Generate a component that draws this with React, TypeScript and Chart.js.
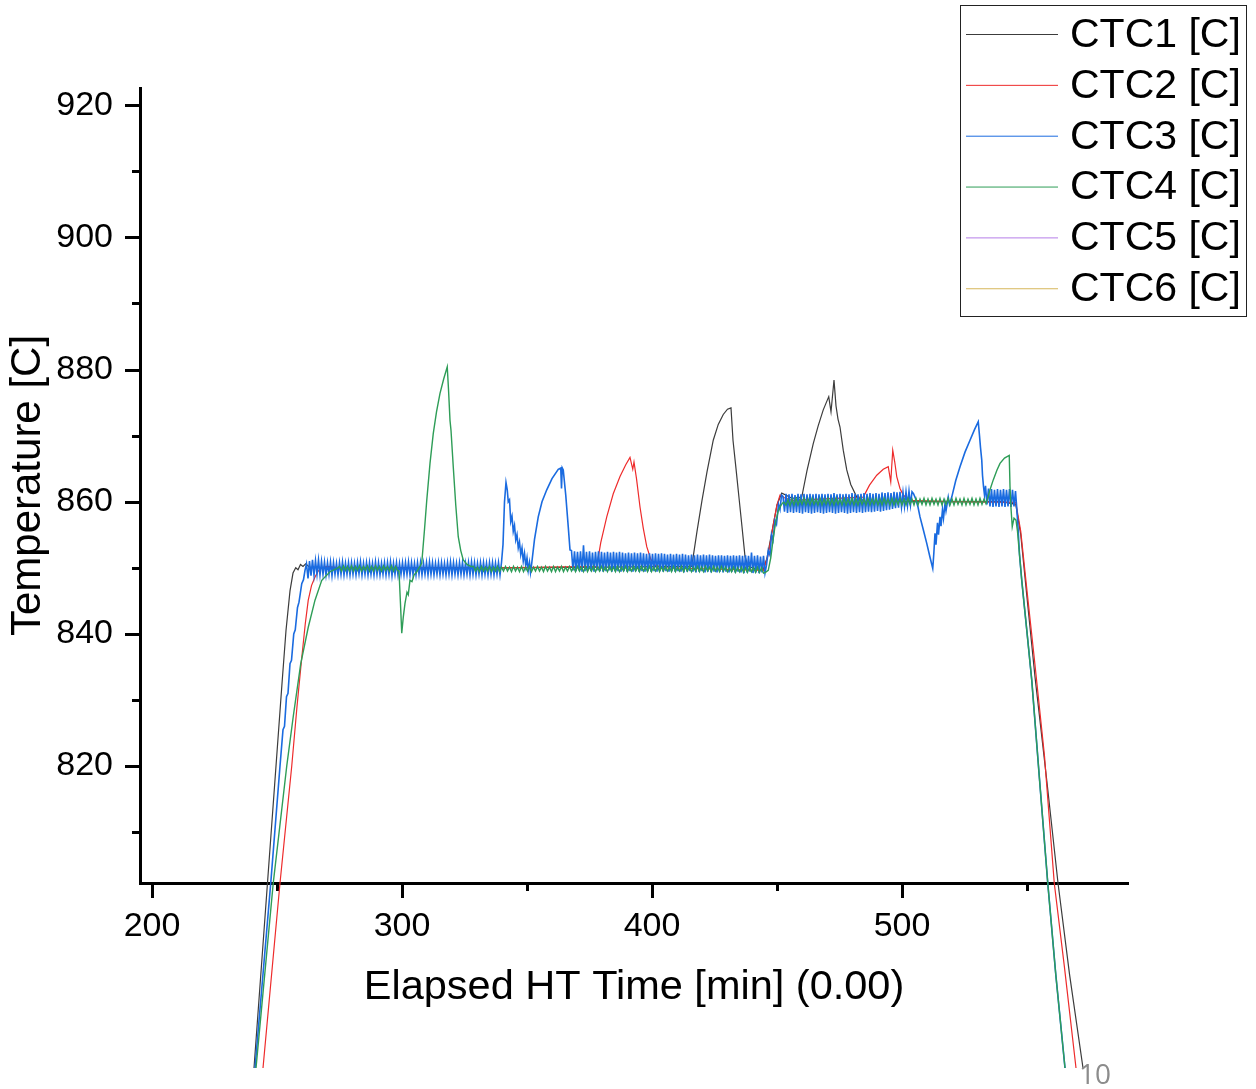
import React, { useEffect, useRef } from "react";
import { Chart, registerables } from "chart.js";

Chart.register(...registerables);

// ---------------- data ----------------
const seriesNames = ["CTC1 [C]", "CTC2 [C]", "CTC3 [C]", "CTC4 [C]", "CTC5 [C]", "CTC6 [C]"];
const seriesColors = ["#3c3c3c", "#ee2b2b", "#1a6be0", "#2e9d57", "#b57ee8", "#d6b65a"];
const seriesWidths = [1.2, 1.2, 1.6, 1.4, 1.2, 1.2];

const xMajorTicks = [200, 300, 400, 500];
const xMinorTicks = [250, 350, 450, 550];
const yMajorTicks = [820, 840, 860, 880, 900, 920];
const yMinorTicks = [810, 830, 850, 870, 890, 910];
const xRange = [195.2, 590.4];
const yRange = [802.3, 922.6];

const xTitle = "Elapsed HT Time [min] (0.00)";
const yTitle = "Temperature [C]";
const pageNumber = "10";

// logger sample interval during controller oscillation runs [min]
const ctc3SampleStep = 0.6;
const ctc4SampleStep = 0.8;

// CTC1 key points [time, temp]
const ctc1Points: [number, number][] = [
  [240.8, 774.3], [249.6, 820.0], [252.0, 832.5], [253.6, 840.5], [255.2, 846.5], [256.4, 849.2],
  [257.5, 850.0], [258.4, 849.7], [259.4, 850.5], [260.4, 850.2], [261.5, 850.6], [263.0, 850.1],
  [270.0, 850.0], [300.0, 850.0], [340.0, 850.0], [380.0, 850.1], [415.9, 850.2],
  [418.0, 855.5], [420.0, 860.2], [422.0, 864.5], [424.5, 869.3], [426.5, 871.7], [428.5, 873.2],
  [430.2, 874.0], [431.6, 874.2], [432.4, 869.3], [433.6, 865.0], [434.8, 860.6], [436.0, 856.2],
  [437.2, 851.7], [438.3, 850.3], [440.0, 850.0], [444.4, 849.6], [446.0, 851.5], [448.0, 855.5],
  [450.0, 859.5], [451.9, 861.3], [453.5, 861.0], [456.0, 860.5], [459.9, 860.7], [462.0, 864.7],
  [464.5, 868.8], [466.5, 871.5], [468.5, 873.9], [470.7, 875.9], [471.6, 873.6], [472.8, 878.4],
  [473.6, 874.5], [474.4, 872.5], [475.2, 871.3], [476.5, 867.8], [477.9, 864.8], [479.5, 862.6],
  [481.9, 860.7], [485.0, 860.1], [500.0, 860.0], [520.0, 860.0], [540.0, 860.0], [545.5, 859.6],
  [547.5, 855.0], [550.0, 845.5], [553.2, 833.5], [558.0, 817.5], [562.4, 802.3], [567.0, 788.5],
  [572.4, 774.3],
];

// CTC2 key points
const ctc2Points: [number, number][] = [
  [244.4, 774.3], [251.2, 802.3], [255.9, 820.0], [258.0, 829.0], [259.8, 836.0], [261.3, 841.5],
  [262.5, 845.1], [263.8, 847.3], [265.2, 848.6], [266.5, 849.5], [267.9, 850.0], [270.0, 850.2],
  [275.0, 850.0], [300.0, 850.0], [340.0, 850.0], [377.9, 850.2], [379.5, 853.8], [381.9, 857.7],
  [384.5, 861.2], [387.2, 863.8], [389.5, 865.6], [391.2, 866.7], [392.3, 864.9], [392.8, 866.0],
  [393.8, 863.5], [395.2, 859.2], [396.5, 856.0], [397.9, 853.2], [399.5, 851.3], [401.2, 850.4],
  [405.0, 850.0], [444.6, 849.6], [446.5, 852.0], [448.5, 856.5], [450.0, 859.5], [451.2, 861.0],
  [453.0, 860.6], [456.0, 860.2], [484.5, 860.7], [487.0, 862.5], [489.9, 864.0], [492.5, 864.9],
  [494.5, 865.3], [495.5, 863.0], [496.3, 867.8], [497.1, 866.0], [497.9, 863.8], [499.2, 862.0],
  [500.5, 861.0], [503.0, 860.2], [520.0, 860.0], [545.5, 859.9], [547.5, 855.5], [550.0, 846.5],
  [553.0, 836.0], [557.0, 821.5], [560.9, 802.3], [565.0, 789.5], [569.6, 774.3],
];

// CTC3 key points (spikes, steps, ramps)
const ctc3Points: [number, number][] = [
  [241.2, 774.3], [247.5, 802.3], [251.2, 820.0], [252.4, 825.5], [253.0, 826.0], [253.8, 830.5],
  [254.4, 831.0], [255.2, 835.5], [255.8, 836.0], [256.7, 840.0], [257.3, 840.6], [258.2, 844.0],
  [258.8, 844.8], [259.9, 847.6], [260.6, 848.2], [261.2, 849.6],
  [340.4, 853.5], [341.0, 860.0], [341.6, 862.9], [342.1, 861.8], [342.5, 860.0], [343.0, 860.3],
  [343.5, 857.0], [344.0, 857.8], [344.5, 855.5], [345.0, 856.4], [345.5, 854.2], [346.0, 855.0],
  [346.5, 853.0], [347.0, 853.9], [347.5, 852.0], [348.0, 853.0], [348.5, 851.0], [349.0, 852.2],
  [349.5, 850.3], [350.0, 851.5], [350.5, 849.6], [351.0, 850.8], [351.4, 849.3], [351.9, 850.7],
  [353.0, 854.3], [354.5, 857.7], [356.0, 860.0], [357.9, 861.8], [360.0, 863.5], [362.5, 864.9],
  [363.5, 865.1], [363.8, 862.0], [364.1, 865.1], [364.5, 864.8], [365.5, 861.0], [366.5, 856.2],
  [367.2, 852.7],
  [445.8, 850.4], [446.5, 852.6], [447.2, 851.9], [447.8, 855.0], [448.4, 854.2], [449.2, 857.2],
  [449.8, 856.6], [450.6, 859.6], [451.2, 858.8], [451.8, 861.0],
  [504.6, 861.2], [505.5, 860.4], [506.4, 859.2], [507.2, 857.7], [508.5, 855.8], [509.9, 853.7],
  [511.2, 851.6], [512.3, 849.9], [512.7, 852.0], [513.2, 855.2], [513.6, 853.5], [514.2, 856.8],
  [514.6, 855.0], [515.2, 857.7], [515.6, 856.3], [516.2, 858.8], [516.6, 857.5], [517.2, 859.7],
  [517.6, 858.6], [518.5, 860.7], [519.0, 859.6], [519.9, 860.7], [521.5, 863.2], [523.2, 865.3],
  [525.2, 867.5], [527.2, 869.3], [529.0, 870.9], [530.5, 872.1], [531.0, 870.0], [531.4, 868.2],
  [531.9, 866.3], [532.2, 864.0], [532.6, 862.3], [533.0, 861.0],
  [546.0, 858.5], [546.5, 855.5], [547.0, 852.0], [547.9, 848.1], [548.9, 844.3], [549.9, 840.6],
  [550.9, 836.8], [551.9, 833.0], [555.0, 818.0], [558.3, 802.3], [561.5, 788.5], [565.2, 774.3],
];

// CTC3 oscillation runs (sampled every ctc3SampleStep min)
const ctc3Run850Start = 261.8;
const ctc3Run850 = [
  850.6, 848.4, 851.0, 848.8, 851.2, 848.9, 851.1, 849.0, 851.2, 848.9,
  851.0, 849.0, 850.9, 848.9, 850.8, 849.0, 850.9, 848.8, 850.8, 849.0,
  850.7, 848.9, 850.8, 849.0, 850.9, 848.9, 850.7, 849.0, 850.8, 848.9,
  850.8, 849.0, 850.7, 848.9, 850.8, 849.1, 850.9, 848.9, 850.7, 849.0,
  850.8, 848.9, 850.8, 849.0, 850.7, 848.9, 850.9, 849.0, 850.8, 848.9,
  850.7, 849.0, 850.8, 848.9, 850.8, 849.0, 850.9, 848.8, 850.7, 849.0,
  850.8, 848.9, 850.7, 849.0, 850.8, 848.9, 850.8, 849.0, 850.9, 848.9,
  850.8, 849.0, 850.7, 848.9, 850.8, 849.0, 850.8, 848.9, 850.7, 849.0,
  850.8, 848.9, 850.9, 849.0, 850.8, 848.9, 850.7, 849.0, 850.8, 848.9,
  850.8, 849.0, 850.7, 848.9, 850.8, 849.0, 850.9, 848.9, 850.8, 849.0,
  850.7, 848.9, 850.8, 849.0, 850.8, 848.9, 850.7, 849.0, 850.8, 848.9,
  850.9, 849.0, 850.8, 848.9, 850.7, 849.0, 850.8, 848.9, 850.8, 849.0,
  850.7, 848.9, 850.8, 849.0, 850.8, 848.9, 850.7, 849.0, 850.8, 848.9,
  850.8,
];
const ctc3Run851Start = 367.8;
const ctc3Run851 = [
  852.6, 849.6, 852.5, 849.5, 852.4, 849.6, 852.5, 849.4, 853.4, 849.5,
  852.4, 849.6, 852.5, 849.5, 852.3, 849.4, 852.4, 849.6, 852.5, 849.5,
  852.4, 849.4, 852.3, 849.5, 852.4, 849.6, 852.3, 849.4, 852.4, 849.5,
  852.3, 849.5, 852.4, 849.4, 852.3, 849.5, 852.2, 849.4, 852.3, 849.5,
  852.2, 849.4, 852.3, 849.5, 852.2, 849.4, 852.3, 849.5, 852.2, 849.4,
  852.1, 849.5, 852.2, 849.4, 852.1, 849.5, 852.2, 849.4, 852.1, 849.5,
  852.2, 849.4, 852.1, 849.5, 852.0, 849.4, 852.1, 849.5, 852.0, 849.4,
  852.1, 849.5, 852.0, 849.4, 852.1, 849.3, 852.0, 849.4, 851.9, 849.5,
  852.0, 849.4, 851.9, 849.3, 852.0, 849.4, 851.9, 849.5, 852.0, 849.3,
  851.9, 849.4, 852.0, 849.3, 851.9, 849.4, 851.8, 849.3, 851.9, 849.4,
  851.9, 849.3, 851.8, 849.4, 851.9, 849.3, 851.8, 849.4, 851.9, 849.3,
  851.8, 849.4, 851.9, 849.3, 851.8, 849.2, 851.9, 849.3, 851.8, 849.4,
  852.3, 849.2, 851.8, 849.3, 851.9, 849.2, 851.7, 849.3, 851.8, 849.2,
];
const ctc3Run860Start = 452.4;
const ctc3Run860 = [
  860.8, 858.5, 861.2, 858.3, 861.1, 858.4, 861.2, 858.3, 861.0, 858.4,
  861.2, 858.3, 861.1, 858.2, 861.2, 858.4, 861.1, 858.3, 861.2, 858.2,
  861.1, 858.3, 861.2, 858.4, 861.1, 858.3, 861.2, 858.2, 861.1, 858.3,
  861.2, 858.4, 861.1, 858.3, 861.3, 858.2, 861.1, 858.3, 861.2, 858.4,
  861.1, 858.3, 861.2, 858.2, 861.1, 858.3, 861.3, 858.4, 861.2, 858.3,
  861.1, 858.4, 861.2, 858.3, 861.3, 858.4, 861.2, 858.5, 861.3, 858.4,
  861.2, 858.5, 861.3, 858.6, 861.2, 858.5, 861.4, 858.6, 861.3, 858.7,
  861.4, 858.8, 861.3, 858.9, 861.5, 859.0, 861.4, 859.1, 861.5, 859.2,
  861.4, 859.3, 861.5, 859.4, 861.6, 859.5, 861.5,
];
const ctc3Run861Start = 533.4;
const ctc3Run861 = [
  862.4, 859.6, 862.0, 859.3, 861.9, 859.2, 861.8, 859.3, 861.9, 859.2,
  861.8, 859.3, 861.9, 859.2, 861.8, 859.3, 861.9, 859.2, 861.8, 859.3,
  861.6,
];

// CTC4 key points
const ctc4Points: [number, number][] = [
  [241.6, 774.3], [248.5, 802.3], [253.9, 820.0], [256.5, 827.5], [259.5, 835.5], [262.5, 841.0],
  [265.2, 845.1], [267.9, 848.1], [271.2, 849.4], [274.0, 849.9],
  [298.8, 849.5], [299.4, 844.5], [299.9, 840.1], [300.5, 842.5], [301.2, 844.6], [302.0, 846.3],
  [302.5, 845.9], [303.2, 848.1], [304.0, 847.9], [304.8, 848.9], [305.9, 849.4], [307.2, 850.2],
  [307.9, 850.7], [309.0, 855.8], [309.9, 860.2], [311.2, 865.8], [312.5, 870.3], [313.8, 873.6],
  [315.2, 876.4], [316.7, 878.6], [318.1, 880.4], [318.6, 877.0], [319.2, 872.3], [319.6, 870.8],
  [320.5, 865.3], [321.5, 859.5], [322.5, 854.7], [323.5, 852.6], [324.5, 851.2], [326.0, 850.5],
  [327.5, 850.2],
  [445.4, 849.3], [446.5, 849.6], [447.5, 851.5], [448.5, 854.5], [449.5, 857.0], [450.5, 858.6],
  [451.5, 859.4], [452.2, 859.8],
  [534.2, 860.4], [535.2, 861.8], [536.5, 863.3], [538.0, 864.8], [539.2, 865.8], [541.0, 866.6],
  [542.9, 867.0], [543.2, 862.3], [543.6, 859.0], [544.1, 856.2], [544.8, 857.5], [545.6, 857.2],
  [546.2, 855.5], [547.0, 852.0], [547.9, 848.1], [549.9, 840.6], [551.9, 833.0], [555.0, 818.0],
  [558.3, 802.3], [561.5, 788.5], [565.2, 774.3],
];

// CTC4 oscillation runs (sampled every ctc4SampleStep min)
const ctc4Run850aStart = 275.0;
const ctc4Run850a = [
  850.2, 849.5, 850.3, 849.6, 850.2, 849.5, 850.3, 849.5, 850.2, 849.6,
  850.3, 849.5, 850.2, 849.6, 850.3, 849.5, 850.2, 849.5, 850.3, 849.6,
  850.2, 849.5, 850.3, 849.6, 850.2, 849.5, 850.3, 849.5, 850.2, 849.6,
];
const ctc4Run850bStart = 328.6;
const ctc4Run850b = [
  850.2, 849.5, 850.1, 849.4, 850.2, 849.5, 850.1, 849.5, 850.2, 849.4,
  850.1, 849.5, 850.2, 849.4, 850.1, 849.5, 850.2, 849.5, 850.1, 849.4,
  850.2, 849.5, 850.1, 849.4, 850.2, 849.4, 850.1, 849.5, 850.2, 849.4,
  850.1, 849.5, 850.2, 849.5, 850.1, 849.4, 850.2, 849.5, 850.1, 849.4,
  850.2, 849.4, 850.1, 849.5, 850.2, 849.4, 850.1, 849.5, 850.2, 849.5,
  850.1, 849.4, 850.2, 849.5, 850.1, 849.4, 850.2, 849.4, 850.1, 849.5,
  850.2, 849.4, 850.1, 849.5, 850.2, 849.5, 850.1, 849.4, 850.2, 849.5,
  850.1, 849.4, 850.2, 849.4, 850.1, 849.5, 850.2, 849.4, 850.1, 849.5,
  850.2, 849.5, 850.1, 849.4, 850.2, 849.5, 850.1, 849.4, 850.2, 849.4,
  850.1, 849.5, 850.2, 849.4, 850.1, 849.5, 850.2, 849.5, 850.1, 849.4,
  850.2, 849.4, 850.1, 849.5, 850.2, 849.4, 850.1, 849.5, 850.2, 849.4,
  850.1, 849.5, 850.2, 849.4, 850.1, 849.4, 850.2, 849.5, 850.1, 849.4,
  850.2, 849.5, 850.1, 849.4, 850.2, 849.5, 850.1, 849.4, 850.0, 849.4,
  850.1, 849.3, 850.0, 849.4, 850.1, 849.3, 850.0, 849.3, 850.1, 849.4,
  850.0, 849.3, 850.1, 849.3, 850.0, 849.2,
];
const ctc4Run860Start = 452.8;
const ctc4Run860 = [
  859.9, 859.5, 860.3, 859.4, 860.4, 859.5, 860.5, 859.5, 860.4, 859.6,
  860.5, 859.5, 860.4, 859.5, 860.5, 859.6, 860.4, 859.5, 860.5, 859.5,
  860.4, 859.6, 860.5, 859.5, 860.4, 859.5, 860.5, 859.6, 860.4, 859.5,
  860.5, 859.5, 860.4, 859.6, 860.5, 859.5, 860.4, 859.5, 860.5, 859.6,
  860.4, 859.5, 860.5, 859.5, 860.4, 859.6, 860.5, 859.5, 860.4, 859.5,
  860.5, 859.6, 860.4, 859.5, 860.5, 859.5, 860.4, 859.6, 860.5, 859.5,
  860.4, 859.5, 860.5, 859.6, 860.4, 859.5, 860.5, 859.5, 860.4, 859.6,
  860.5, 859.5, 860.4, 859.5, 860.5, 859.6, 860.4, 859.5, 860.5, 859.5,
  860.4, 859.6, 860.5, 859.5, 860.4, 859.5, 860.5, 859.6, 860.4, 859.5,
  860.5, 859.5, 860.4, 859.6, 860.5, 859.5, 860.4, 859.5, 860.5, 859.6,
  860.4, 859.7,
];

// CTC5 / CTC6: no samples in this window (legend entries only)
const ctc5Points: [number, number][] = [];
const ctc6Points: [number, number][] = [];

// ---------------- build ----------------
type Run = [number, number, number[]];
function buildSeries(keyPts: [number, number][], runs: Run[]) {
  const pts = keyPts.map(([t, v]) => ({ x: t, y: v }));
  for (const [start, step, vals] of runs) {
    vals.forEach((v, i) => pts.push({ x: +(start + i * step).toFixed(3), y: v }));
  }
  pts.sort((a, b) => a.x - b.x);
  return pts;
}

const FONT = "'Liberation Sans', Arial, Helvetica, sans-serif";

const decorPlugin = {
  id: "originDecor",
  beforeDatasetsDraw(chart: any) {
    const { ctx, chartArea: a } = chart;
    const xs = chart.scales.x;
    const ys = chart.scales.y;
    ctx.save();
    ctx.strokeStyle = "#000";
    ctx.lineWidth = 3;
    ctx.lineCap = "butt";
    ctx.beginPath();
    const b = Math.round(a.bottom);
    const l = Math.round(a.left);
    for (const v of xMajorTicks) {
      const p = Math.round(xs.getPixelForValue(v)) + 0.5;
      ctx.moveTo(p, b);
      ctx.lineTo(p, b + 15);
    }
    for (const v of xMinorTicks) {
      const p = Math.round(xs.getPixelForValue(v)) + 0.5;
      ctx.moveTo(p, b);
      ctx.lineTo(p, b + 8);
    }
    for (const v of yMajorTicks) {
      const p = Math.round(ys.getPixelForValue(v)) + 0.5;
      ctx.moveTo(l, p);
      ctx.lineTo(l - 15, p);
    }
    for (const v of yMinorTicks) {
      const p = Math.round(ys.getPixelForValue(v)) + 0.5;
      ctx.moveTo(l, p);
      ctx.lineTo(l - 8, p);
    }
    ctx.stroke();
    ctx.restore();
  },
  afterDraw(chart: any) {
    const { ctx } = chart;
    ctx.save();
    // legend box
    ctx.fillStyle = "#fff";
    ctx.fillRect(960.5, 5.5, 286, 311);
    ctx.strokeStyle = "#222";
    ctx.lineWidth = 1;
    ctx.strokeRect(960.5, 5.5, 286, 311);
    ctx.font = `41px ${FONT}`;
    ctx.textBaseline = "middle";
    ctx.textAlign = "left";
    seriesNames.forEach((name, i) => {
      const y = 34.5 + i * 50.85;
      ctx.strokeStyle = seriesColors[i];
      ctx.lineWidth = 1;
      ctx.beginPath();
      ctx.moveTo(966, y);
      ctx.lineTo(1058, y);
      ctx.stroke();
      ctx.fillStyle = "#000";
      ctx.fillText(name, 1070, y + 1);
    });
    // page number
    ctx.fillStyle = "#8c8c8c";
    ctx.font = `28px 'Open Sans', ${FONT}`;
    ctx.textBaseline = "alphabetic";
    ctx.fillText(pageNumber, 1079, 1084);
    ctx.restore();
  },
};

export default function App() {
  const canvasRef = useRef<HTMLCanvasElement>(null);

  useEffect(() => {
    const canvas = canvasRef.current;
    if (!canvas) return;
    const data = [
      buildSeries(ctc1Points, []),
      buildSeries(ctc2Points, []),
      buildSeries(ctc3Points, [
        [ctc3Run850Start, ctc3SampleStep, ctc3Run850],
        [ctc3Run851Start, ctc3SampleStep, ctc3Run851],
        [ctc3Run860Start, ctc3SampleStep, ctc3Run860],
        [ctc3Run861Start, ctc3SampleStep, ctc3Run861],
      ]),
      buildSeries(ctc4Points, [
        [ctc4Run850aStart, ctc4SampleStep, ctc4Run850a],
        [ctc4Run850bStart, ctc4SampleStep, ctc4Run850b],
        [ctc4Run860Start, ctc4SampleStep, ctc4Run860],
      ]),
      buildSeries(ctc5Points, []),
      buildSeries(ctc6Points, []),
    ];

    const chart = new Chart(canvas, {
      type: "line",
      data: {
        datasets: seriesNames.map((name, i) => ({
          label: name,
          data: data[i],
          borderColor: seriesColors[i],
          backgroundColor: seriesColors[i],
          borderWidth: seriesWidths[i],
          pointRadius: 0,
          pointHoverRadius: 0,
          fill: false,
          tension: 0,
          clip: false as any,
          order: seriesNames.length - i,
        })),
      },
      options: {
        animation: false,
        responsive: false,
        maintainAspectRatio: false,
        devicePixelRatio: 1,
        events: [],
        layout: { padding: { left: 0, right: 128, top: 88, bottom: 0 } },
        plugins: { legend: { display: false }, tooltip: { enabled: false } },
        scales: {
          x: {
            type: "linear",
            position: "bottom",
            min: xRange[0],
            max: xRange[1],
            afterBuildTicks: (s: any) => {
              s.ticks = xMajorTicks.map((v) => ({ value: v }));
            },
            afterFit: (s: any) => {
              s.height = 206;
            },
            grid: { display: false, drawTicks: true, tickLength: 14 },
            border: { display: true, color: "#000", width: 3 },
            ticks: {
              color: "#000",
              font: { family: FONT, size: 34 },
              padding: 9,
              maxRotation: 0,
              autoSkip: false,
            },
            title: {
              display: true,
              text: xTitle,
              color: "#000",
              font: { family: FONT, size: 41.5 },
              padding: { top: 0, bottom: 77 },
            },
          },
          y: {
            type: "linear",
            position: "left",
            min: yRange[0],
            max: yRange[1],
            afterBuildTicks: (s: any) => {
              s.ticks = yMajorTicks.map((v) => ({ value: v }));
            },
            afterFit: (s: any) => {
              s.width = 140;
            },
            grid: { display: false, drawTicks: true, tickLength: 14 },
            border: { display: true, color: "#000", width: 3 },
            ticks: {
              color: "#000",
              font: { family: FONT, size: 34 },
              padding: 13,
              autoSkip: false,
            },
            title: {
              display: true,
              text: yTitle,
              color: "#000",
              font: { family: FONT, size: 42 },
              padding: { top: 3, bottom: 0 },
            },
          },
        },
      } as any,
      plugins: [decorPlugin as any],
    });

    return () => chart.destroy();
  }, []);

  return (
    <div style={{ position: "absolute", left: 0, top: 0, width: 1256, height: 1089, background: "#fff" }}>
      <canvas ref={canvasRef} width={1256} height={1089} style={{ display: "block", width: 1256, height: 1089 }} />
    </div>
  );
}
